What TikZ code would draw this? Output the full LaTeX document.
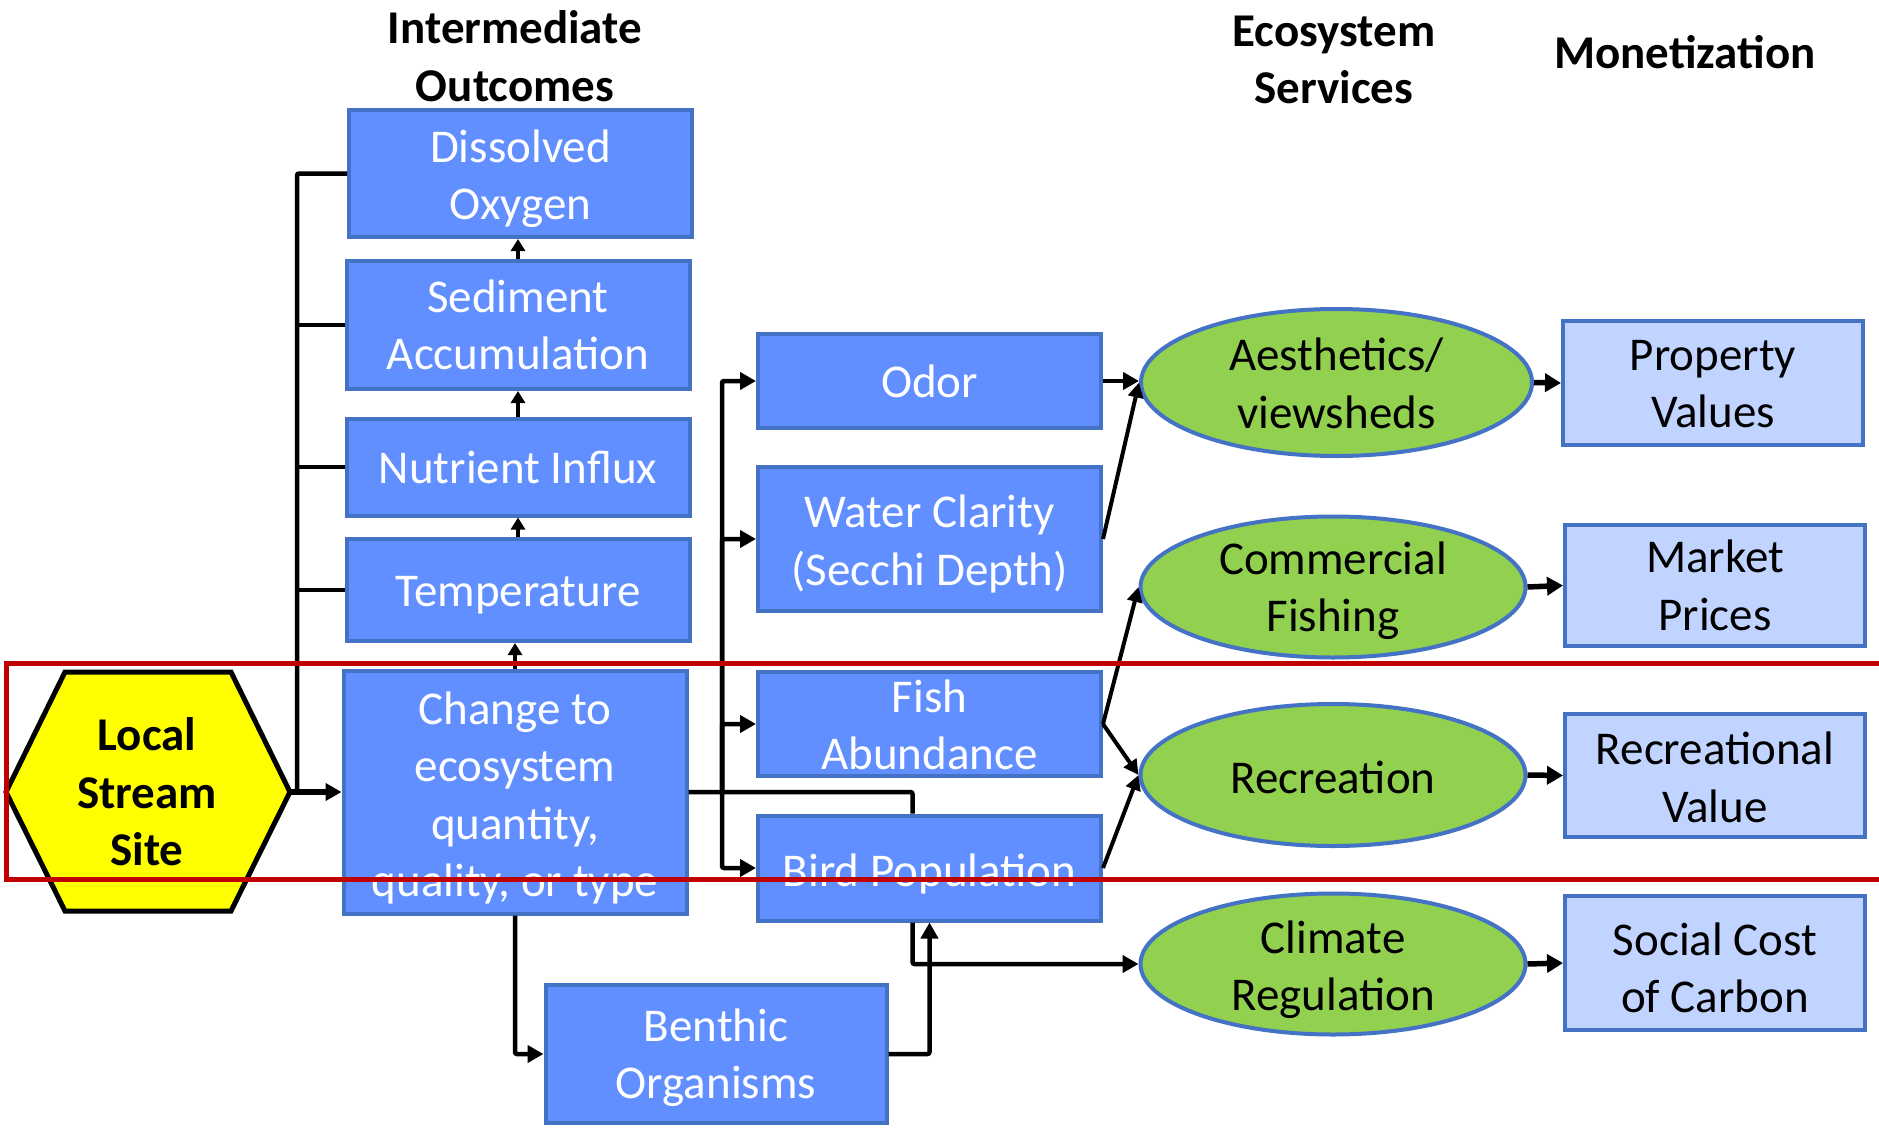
\documentclass[tikz,border=0pt]{standalone}
\usepackage{fontspec}
\setmainfont{Carlito}
\usetikzlibrary{arrows.meta,shapes.geometric}
\definecolor{boxblue}{HTML}{628FFF}
\definecolor{edgeblue}{HTML}{4472C4}
\definecolor{lightblue}{HTML}{C1D4FF}
\definecolor{leaf}{HTML}{92D050}
\definecolor{redline}{HTML}{C00000}
\definecolor{hexyellow}{HTML}{FFFF00}
\begin{document}
\begin{tikzpicture}[x=1pt,y=-1pt,
  txt/.style={font=\fontsize{47pt}{57.4pt}\selectfont, align=center, inner sep=0pt},
  wtxt/.style={txt, text=white},
  ttl/.style={font=\fontsize{47pt}{57.4pt}\selectfont\bfseries, align=center, inner sep=0pt},
  bluebox/.style={rectangle, draw=edgeblue, line width=4pt, fill=boxblue, minimum width=343pt, inner sep=0pt},
  lightbox/.style={rectangle, draw=edgeblue, line width=4pt, fill=lightblue, minimum width=300pt, inner sep=0pt},
  svc/.style={ellipse, draw=edgeblue, line width=4pt, fill=leaf, minimum width=385pt, minimum height=141pt, inner sep=0pt},
  conn/.style={line width=4.5pt, rounded corners=2pt},
  arr/.style={conn, -{Triangle[length=16pt,width=17pt]}},
  sarr/.style={line width=4pt, -{Triangle[length=12pt,width=14pt]}},
  darr/.style={line width=4pt, -{Triangle[length=15pt,width=15pt]}},
  earr/.style={line width=5.5pt, -{Triangle[length=16pt,width=18pt]}}
]
\clip (0,0) rectangle (1879,1127);
\fill[white] (0,0) rectangle (1879,1127);

% titles
\node[ttl] (t1) at (515,56) {Intermediate\\Outcomes};
\node[ttl] (t2) at (1334,60) {Ecosystem\\Services};
\node[ttl] (t3) at (1685,52) {Monetization};

% hexagon
\draw[line width=5pt, fill=hexyellow, line join=miter]
  (6,792) -- (65,672) -- (231,672) -- (290,792) -- (231,911) -- (65,911) -- cycle;
\node[ttl] (lss) at (147,792) {Local\\Stream\\Site};
\coordinate (hexR) at (290,792);

% intermediate outcomes
\node[bluebox, minimum height=127pt] (do) at (520.5,173.5) {};
\node[wtxt] (doT) at ([yshift=-5pt]do.center) {Dissolved\\Oxygen};
\node[bluebox, minimum height=128pt] (sed) at (518,325) {};
\node[wtxt] (sedT) at (sed.center) {Sediment\\Accumulation};
\node[bluebox, minimum height=97pt] (nut) at (518,467) {};
\node[wtxt] (nutT) at (nut.center) {Nutrient Influx};
\node[bluebox, minimum height=102pt] (tmp) at (518,590) {};
\node[wtxt] (tmpT) at ([yshift=-5pt]tmp.center) {Temperature};
\node[bluebox, minimum height=243pt] (chg) at (515,792) {};
\node[wtxt] (chgT) at ([yshift=-6pt]chg.center) {Change to\\ecosystem\\quantity,\\quality, or type};
\node[bluebox, minimum width=341pt, minimum height=138pt] (ben) at (716,1054) {};
\node[wtxt] (benT) at ([yshift=-4pt]ben.center) {Benthic\\Organisms};

\node[bluebox, minimum height=94pt] (odor) at (929.5,381) {};
\node[wtxt] (odorT) at (odor.center) {Odor};
\node[bluebox, minimum height=144pt] (wc) at (929.5,539) {};
\node[wtxt] (wcT) at ([yshift=-5pt]wc.center) {Water Clarity\\(Secchi Depth)};
\node[bluebox, minimum height=104pt] (fish) at (929.5,724) {};
\node[wtxt] (fishT) at ([yshift=-1pt]fish.center) {Fish\\Abundance};
\node[bluebox, minimum height=105pt] (bird) at (929.5,868) {};
\node[wtxt] (birdT) at ([yshift=-6pt]bird.center) {Bird Population};

% ecosystem services
\node[svc, minimum width=391pt, minimum height=147pt] (aes) at (1336.5,382.5) {};
\node[txt] (aesT) at ([yshift=-1pt]aes.center) {Aesthetics/\\viewsheds};
\node[svc] (cf) at (1333,587) {};
\node[txt] (cfT) at ([yshift=-4pt]cf.center) {Commercial\\Fishing};
\node[svc, minimum height=142pt] (rec) at (1333,775) {};
\node[txt] (recT) at ([yshift=-2pt]rec.center) {Recreation};
\node[svc] (clim) at (1333,964) {};
\node[txt] (climT) at ([yshift=-6pt]clim.center) {Climate\\Regulation};

% monetization
\node[lightbox, minimum height=124pt] (prop) at (1713,383) {};
\node[txt] (propT) at ([yshift=-1pt]prop.center) {Property\\Values};
\node[lightbox, minimum height=121pt] (mkt) at (1715,585.5) {};
\node[txt] (mktT) at (mkt.center) {Market\\Prices};
\node[lightbox, minimum height=123pt] (rv) at (1715,775.5) {};
\node[txt] (rvT) at ([yshift=-2pt]rv.center) {Recreational\\Value};
\node[lightbox, minimum height=134pt] (scc) at (1715,963) {};
\node[txt] (sccT) at ([yshift=-5pt]scc.center) {Social Cost\\of Carbon};

% left bus
\coordinate (bus) at (297,792);
\draw[conn] (do.west) -| (bus);
\draw[conn] (sed.west) -- (sed.west -| bus);
\draw[conn] (nut.west) -- (nut.west -| bus);
\draw[conn] (tmp.west) -- (tmp.west -| bus);
\draw[arr, line width=6pt] (hexR) -- (chg.west);

% vertical chain
\draw[sarr] (chg.north) -- (chg.north |- tmp.south);
\draw[sarr] (tmp.north) -- (tmp.north |- nut.south);
\draw[sarr] (nut.north) -- (nut.north |- sed.south);
\draw[sarr] (sed.north) -- (sed.north |- do.south);

% change -> right side
\coordinate (birdIn) at ([xshift=-17pt]bird.north);
\draw[conn] (chg.east) -| (birdIn);
\coordinate (b2) at (722,792);
\draw[arr] (b2) |- (odor.west);
\draw[arr] (b2) |- (wc.west);
\draw[arr] (b2) |- (fish.west);
\draw[arr] (b2) |- (bird.west);

% benthic
\draw[arr] (chg.south) |- (ben.west);
\draw[arr] (ben.east) -| (bird.south);
\coordinate (birdOut) at ([xshift=-17pt]bird.south);
\draw[arr] (birdOut) |- (clim.west);

% to ecosystem services
\draw[arr] (odor.east) -- (odor.east -| aes.west);
\draw[darr] (wc.east) -- (aes.west);
\draw[darr] (fish.east) -- (cf.west);
\draw[darr] (fish.east) -- (rec.west);
\draw[darr] (bird.east) -- (rec.west);

% to monetization
\draw[earr] (aes.east) -- (prop.west);
\draw[earr] (cf.east) -- (mkt.west);
\draw[earr] (rec.east) -- (rv.west);
\draw[earr] (clim.east) -- (scc.west);

% red highlight
\draw[redline, line width=5pt] (6,663) rectangle (1895,879);
\end{tikzpicture}
\end{document}
